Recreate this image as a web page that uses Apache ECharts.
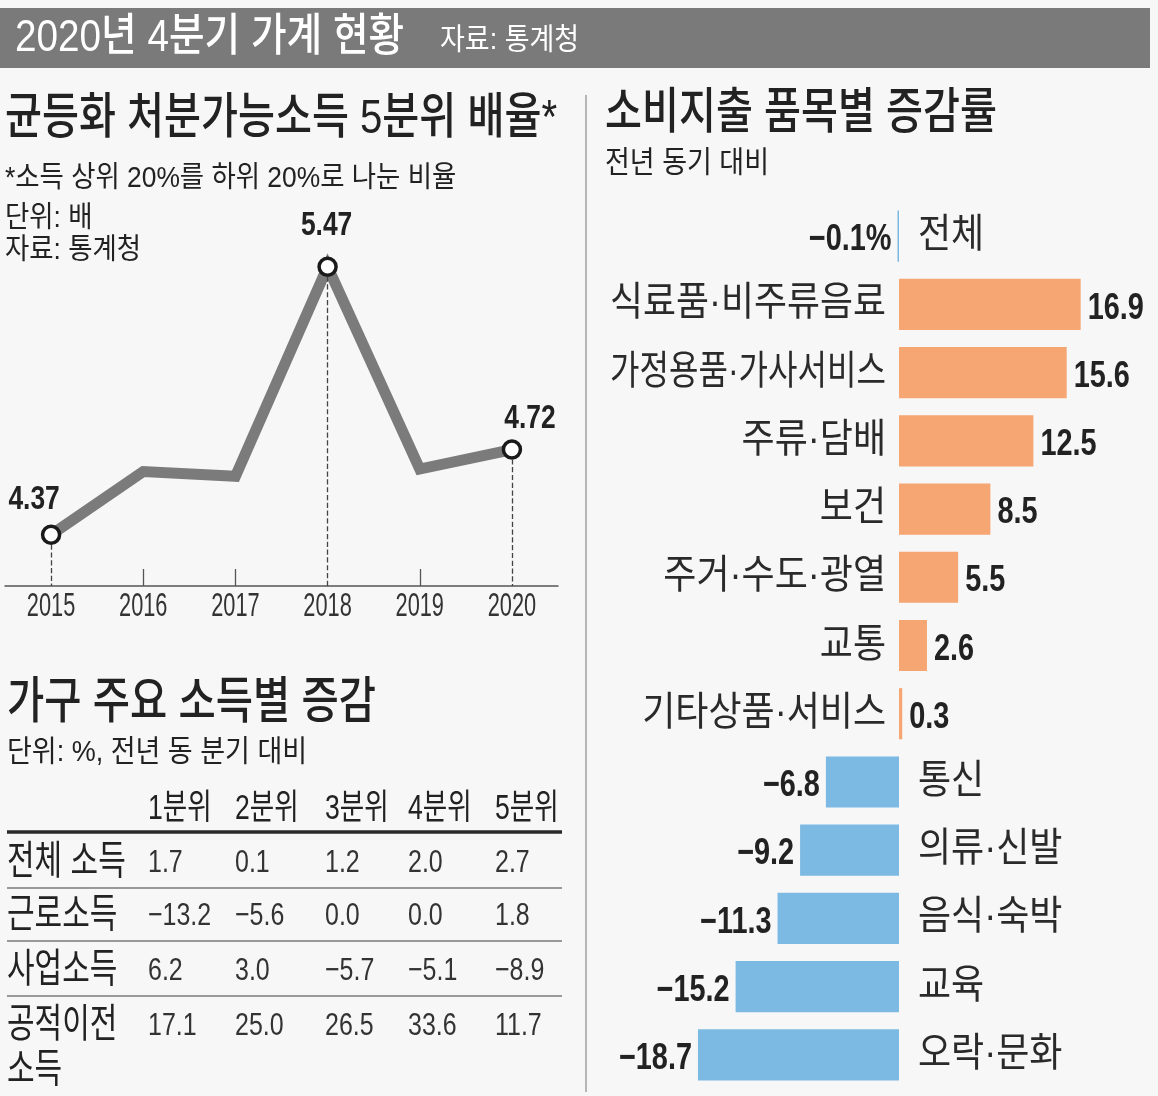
<!DOCTYPE html>
<html><head><meta charset="utf-8">
<script src="https://cdn.jsdelivr.net/npm/echarts@6/dist/echarts.min.js"></script>
<style>html,body{margin:0;padding:0;background:#f7f7f7}#c{width:1158px;height:1096px}</style>
</head><body><div id="c"></div>
<script>
// ---- data ----
const years = ['2015', '2016', '2017', '2018', '2019', '2020'];
const ratio = [4.37, 4.63, 4.61, 5.47, 4.64, 4.72];
const ratioLabeled = ['2015', '2018', '2020'];

const itemNames = ['전체', '식료품·비주류음료', '가정용품·가사서비스', '주류·담배', '보건', '주거·수도·광열', '교통', '기타상품·서비스', '통신', '의류·신발', '음식·숙박', '교육', '오락·문화'];
const itemChange = [-0.1, 16.9, 15.6, 12.5, 8.5, 5.5, 2.6, 0.3, -6.8, -9.2, -11.3, -15.2, -18.7];

const tableCols = ['1분위', '2분위', '3분위', '4분위', '5분위'];
const tableRows = ['전체 소득', '근로소득', '사업소득', '공적이전\n소득'];
const rowTotal = [1.7, 0.1, 1.2, 2.0, 2.7];
const rowWage = [-13.2, -5.6, 0.0, 0.0, 1.8];
const rowBusiness = [6.2, 3.0, -5.7, -5.1, -8.9];
const rowTransfer = [17.1, 25.0, 26.5, 33.6, 11.7];

// ---- styling ----
const KR = '"Liberation Sans","Noto Sans CJK KR",sans-serif';
const LAT = '"Liberation Sans",sans-serif';
const ORANGE = '#F5A673';
const BLUE = '#7CBAE3';
const TXT = '#222222';

function fmt(v) { return (v < 0 ? '\u2212' : '') + Math.abs(v).toFixed(1); }

function txt(text, x, y, size, sx, opts) {
  opts = opts || {};
  return {
    type: 'text', x: x, y: y, scaleX: sx, silent: true, z: 10,
    style: {
      text: text, fill: opts.fill || TXT, fontSize: size, fontFamily: KR,
      fontWeight: opts.weight || 'normal', align: opts.align || 'left', verticalAlign: 'middle'
    }
  };
}

const measureCtx = document.createElement('canvas').getContext('2d');
function textWidth(t, font) { measureCtx.font = font; return measureCtx.measureText(t).width; }

// ---- static graphics (titles, table) ----
const graphics = [];
graphics.push({ type: 'rect', silent: true, z: 1, shape: { x: 0, y: 8, width: 1150, height: 60 }, style: { fill: '#7a7a7a' } });
graphics.push(txt('2020년 4분기 가계 현황', 15, 39, 45, 0.86, { fill: '#ffffff', weight: 500 }));
graphics.push(txt('자료: 통계청', 440, 41, 30, 0.9, { fill: '#ffffff' }));
graphics.push({ type: 'line', silent: true, z: 1, shape: { x1: 586, y1: 95, x2: 586, y2: 1092 }, style: { stroke: '#8a8a8a', lineWidth: 1.2 } });

graphics.push(txt('균등화 처분가능소득 5분위 배율*', 5, 119, 49, 0.82, { weight: 500 }));
graphics.push(txt('*소득 상위 20%를 하위 20%로 나눈 비율', 5, 179, 29, 0.91));
graphics.push(txt('단위: 배', 5, 219, 29, 0.91));
graphics.push(txt('자료: 통계청', 5, 251, 29, 0.91));

graphics.push(txt('가구 주요 소득별 증감', 7, 704, 50, 0.81, { weight: 500 }));
graphics.push(txt('단위: %, 전년 동 분기 대비', 7, 753, 30, 0.9));

graphics.push(txt('소비지출 품목별 증감률', 605, 114, 49, 0.82, { weight: 500 }));
graphics.push(txt('전년 동기 대비', 605, 164, 30, 0.9));

// table
const colX = [148, 235, 325, 408, 495];
const rowY = [863, 916, 971, 1026];
const tableValues = [rowTotal, rowWage, rowBusiness, rowTransfer];
tableCols.forEach(function (c, j) { graphics.push(txt(c, colX[j], 809, 35, 0.76)); });
graphics.push({ type: 'line', silent: true, z: 5, shape: { x1: 7, y1: 832, x2: 562, y2: 832 }, style: { stroke: '#2a2a2a', lineWidth: 3.5 } });
tableRows.forEach(function (r, i) {
  r.split('\n').forEach(function (part, k) { graphics.push(txt(part, 7, rowY[i] + k * 45, 40, 0.75)); });
  tableValues[i].forEach(function (v, j) { graphics.push(txt(fmt(v), colX[j], rowY[i], 32, 0.78, { fill: '#333' })); });
  if (i < tableRows.length - 1) {
    const ly = rowY[i] + 25;
    graphics.push({ type: 'line', silent: true, z: 5, shape: { x1: 7, y1: ly, x2: 562, y2: ly }, style: { stroke: '#7a7a7a', lineWidth: 1.5 } });
  }
});

// ---- line chart ----
const yMin = 4.16, yMax = 5.58;
const labelOffsets = { '2015': [-17, -35], '2018': [-1, -41], '2020': [18, -31] };
const lineData = ratio.map(function (v, i) {
  if (ratioLabeled.indexOf(years[i]) >= 0) {
    return { value: v, symbol: 'circle', symbolSize: 17 };
  }
  return { value: v, symbol: 'none' };
});
const dropLines = ratioLabeled.map(function (y) {
  const idx = years.indexOf(y);
  return [{ coord: [idx, ratio[idx] - 0.04] }, { coord: [idx, yMin] }];
});

function renderYearLabel(params, api) {
  const p = api.coord([api.value(0), yMin]);
  return { type: 'text', x: p[0], y: p[1] + 21, scaleX: 0.66,
    style: { text: years[params.dataIndex], fill: '#333', fontSize: 33, fontFamily: LAT, align: 'center', verticalAlign: 'middle' } };
}
function renderPointLabel(params, api) {
  const p = api.coord([api.value(0), api.value(1)]);
  const off = labelOffsets[ratioLabeled[params.dataIndex]];
  return { type: 'text', x: p[0] + off[0], y: p[1] + off[1], scaleX: 0.8,
    style: { text: api.value(1).toFixed(2), fill: '#222', fontSize: 33, fontWeight: 'bold', fontFamily: LAT, align: 'center', verticalAlign: 'middle' } };
}

// ---- bar chart renderer ----
const NAME_FONT = 40, NAME_SX = 0.9, NAME_MAX = 276;
function renderBar(params, api) {
  const v = api.value(0), i = api.value(1);
  const z0 = api.coord([0, i]), e = api.coord([v, i]);
  const bandH = api.size([0, 1])[1];
  const h = bandH * 0.75;
  const cy = z0[1];
  const pos = v >= 0;
  const w = Math.max(Math.abs(e[0] - z0[0]), 1.5);
  const x0 = pos ? z0[0] : z0[0] - w;
  const name = itemNames[params.dataIndex];
  const nw = textWidth(name, NAME_FONT + 'px ' + KR) * NAME_SX;
  const sx = nw > NAME_MAX ? NAME_SX * NAME_MAX / nw : NAME_SX;
  const valText = fmt(v) + (params.dataIndex === 0 ? '%' : '');
  return {
    type: 'group',
    children: [
      { type: 'rect', shape: { x: x0, y: cy - h / 2, width: w, height: h }, style: { fill: pos ? ORANGE : BLUE } },
      { type: 'text', x: pos ? z0[0] - 13 : z0[0] + 19, y: cy, scaleX: sx,
        style: { text: name, fill: '#2a2a2a', fontSize: NAME_FONT, fontFamily: KR, align: pos ? 'right' : 'left', verticalAlign: 'middle' } },
      { type: 'text', x: pos ? z0[0] + w + 7 : z0[0] - w - 6, y: cy + 4, scaleX: 0.78,
        style: { text: valText, fill: '#222', fontSize: 37, fontWeight: 'bold', fontFamily: LAT, align: pos ? 'left' : 'right', verticalAlign: 'middle' } }
    ]
  };
}

const chart = echarts.init(document.getElementById('c'), null, { renderer: 'canvas' });
chart.setOption({
  backgroundColor: '#f7f7f7',
  animation: false,
  graphic: { elements: graphics },
  grid: [
    { left: 5, top: 240, width: 553, height: 346 },
    { left: 684, top: 202, width: 430, height: 887 }
  ],
  xAxis: [
    {
      type: 'category', gridIndex: 0, data: years, boundaryGap: true,
      axisLine: { lineStyle: { color: '#555', width: 1.5 } },
      axisTick: { show: true, alignWithLabel: true, inside: true, length: 17,
        interval: function (i) { return ratioLabeled.indexOf(years[i]) < 0; },
        lineStyle: { color: '#555', width: 1.3 } },
      axisLabel: { show: false },
      splitLine: { show: false }
    },
    { type: 'value', gridIndex: 1, min: -20, max: 20, show: false }
  ],
  yAxis: [
    { type: 'value', gridIndex: 0, min: yMin, max: yMax, show: false },
    { type: 'category', gridIndex: 1, data: itemNames, inverse: true, show: false }
  ],
  series: [
    {
      type: 'line', xAxisIndex: 0, yAxisIndex: 0, data: lineData, z: 3,
      lineStyle: { color: '#7b7b7b', width: 11, join: 'miter' },
      itemStyle: { color: '#ffffff', borderColor: '#1a1a1a', borderWidth: 3.5 },
      markLine: { silent: true, symbol: 'none', animation: false, label: { show: false },
        lineStyle: { type: 'dashed', color: '#444', width: 1.3 }, data: dropLines }
    },
    {
      type: 'custom', xAxisIndex: 0, yAxisIndex: 0, coordinateSystem: 'cartesian2d', z: 4,
      data: years.map(function (y, i) { return [i, yMin]; }),
      encode: { x: 0, y: 1 },
      renderItem: renderYearLabel
    },
    {
      type: 'custom', xAxisIndex: 0, yAxisIndex: 0, coordinateSystem: 'cartesian2d', z: 4,
      data: ratioLabeled.map(function (y) { const i = years.indexOf(y); return [i, ratio[i]]; }),
      encode: { x: 0, y: 1 },
      renderItem: renderPointLabel
    },
    {
      type: 'custom', xAxisIndex: 1, yAxisIndex: 1, coordinateSystem: 'cartesian2d',
      data: itemChange.map(function (v, i) { return [v, i]; }),
      encode: { x: 0, y: 1 },
      renderItem: renderBar
    }
  ]
});
</script>
</body></html>
